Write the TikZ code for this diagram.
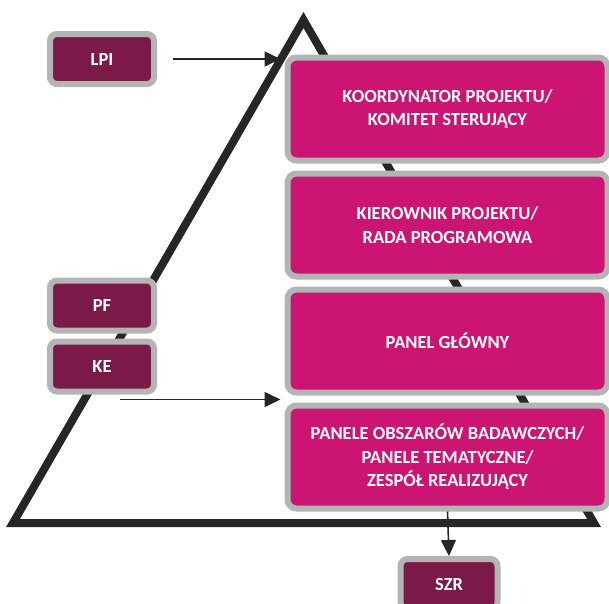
\documentclass[tikz,border=0pt]{standalone}
\usepackage{fontspec}
\setmainfont{Carlito}
\usepackage{xcolor}
\definecolor{panelPink}{RGB}{204, 20, 114}
\definecolor{unitMaroon}{RGB}{124, 26, 71}
\definecolor{frameGrey}{RGB}{180, 180, 180}
\definecolor{lineBlack}{RGB}{38, 38, 38}
\usepackage{tikz}
\usetikzlibrary{positioning,arrows.meta}

\tikzset{
  levelbox/.style={fill=panelPink, draw=frameGrey, line width=6pt, rounded corners=9pt,
    minimum width=320pt, minimum height=103pt, text=white, align=center,
    font=\bfseries\fontsize{18.5}{23.5}\selectfont},
  unitbox/.style={fill=unitMaroon, draw=frameGrey, line width=6pt, rounded corners=7pt,
    minimum width=104pt, minimum height=50pt, text=white,
    font=\bfseries\fontsize{18.5}{22}\selectfont},
  flow/.style={draw=lineBlack, line width=1.6pt, -{Triangle[length=16pt,width=15pt]}}
}

\begin{document}
\begin{tikzpicture}[x=1pt, y=-1pt]
\useasboundingbox (0,0) rectangle (609,603);

% pyramid outline behind everything
\coordinate (apex) at (303.5,20);
\coordinate (baseL) at (13,523);
\coordinate (baseR) at (594,523);
\draw[lineBlack, line width=8pt] (apex) -- (baseL) -- (baseR) -- cycle;

% levels of the pyramid
\node[levelbox] (kor) at (447.5,109) {KOORDYNATOR PROJEKTU/\\KOMITET STERUJĄCY};
\node[levelbox, below=7pt of kor] (kier) {KIEROWNIK PROJEKTU/\\RADA PROGRAMOWA};
\node[levelbox, below=7pt of kier] (panel) {PANEL GŁÓWNY};
\node[levelbox, below=7pt of panel] (obsz) {PANELE OBSZARÓW BADAWCZYCH/\\PANELE TEMATYCZNE/\\ZESPÓŁ REALIZUJĄCY};

% side units
\node[unitbox] (lpi) at (102,59) {LPI};
\node[unitbox] (pf) at (102,305.5) {PF};
\node[unitbox, below=5pt of pf] (ke) {KE};
\node[unitbox, minimum width=97pt] (szr) at (449,584) {SZR};

% connectors
\draw[flow, shorten <=16pt, shorten >=4pt] (lpi.east) -- (lpi.east -| kor.west);
\coordinate (keOut) at ([xshift=18pt, yshift=-5pt]ke.south);
\draw[flow, shorten >=4pt] (keOut) -- (keOut -| obsz.west);
\draw[flow] (obsz.south) -- (szr.north);
\end{tikzpicture}
\end{document}
